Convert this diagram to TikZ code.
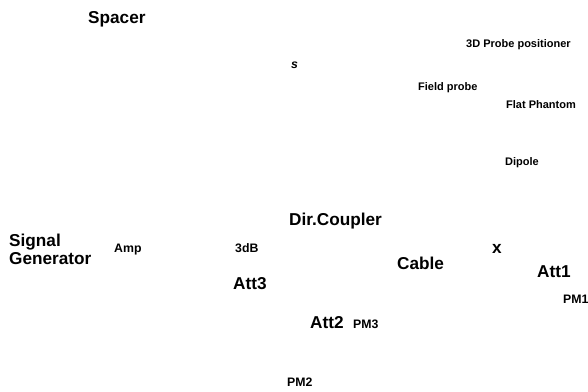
\documentclass[tikz,border=0pt]{standalone}
\usepackage{fontspec}
\setmainfont{Liberation Sans}
\begin{document}
\begin{tikzpicture}[x=1pt,y=-1pt,
  every node/.style={inner sep=0pt,anchor=base west},
  biglbl/.style={font=\fontsize{17.2}{18}\selectfont\bfseries},
  midlbl/.style={font=\fontsize{12.3}{13}\selectfont\bfseries},
  smalllbl/.style={font=\fontsize{11}{12}\selectfont\bfseries}]
  \useasboundingbox (0,0) rectangle (588,391);
  % probe side
  \node[biglbl] (spacer) at (88,23) {Spacer};
  \node[font=\fontsize{12.3}{13}\selectfont\bfseries\itshape] (s) at (291,68) {s};
  \node[smalllbl] (positioner) at (466,47) {3D Probe positioner};
  \node[smalllbl] (probe) at (418,90) {Field probe};
  \node[smalllbl] (phantom) at (506,108) {Flat Phantom};
  \node[smalllbl] (dipole) at (505,165) {Dipole};
  % source chain
  \node[biglbl,align=left,anchor=north west] (siggen) at (9,234) {Signal\\Generator};
  \node[midlbl] (amp) at (114,252) {Amp};
  \node[midlbl] (threedb) at (235,252) {3dB};
  \node[biglbl] (att3) at (233,289) {Att3};
  \node[biglbl] (coupler) at (289,225) {Dir.Coupler};
  \node[biglbl] (cable) at (397,269) {Cable};
  \node[biglbl] (x) at (492,253) {x};
  \node[biglbl] (att1) at (537,277) {Att1};
  \node[midlbl] (pm1) at (563,303) {PM1};
  \node[biglbl] (att2) at (310,328) {Att2};
  \node[midlbl] (pm3) at (353,328) {PM3};
  \node[midlbl] (pm2) at (287,386) {PM2};
\end{tikzpicture}
\end{document}
